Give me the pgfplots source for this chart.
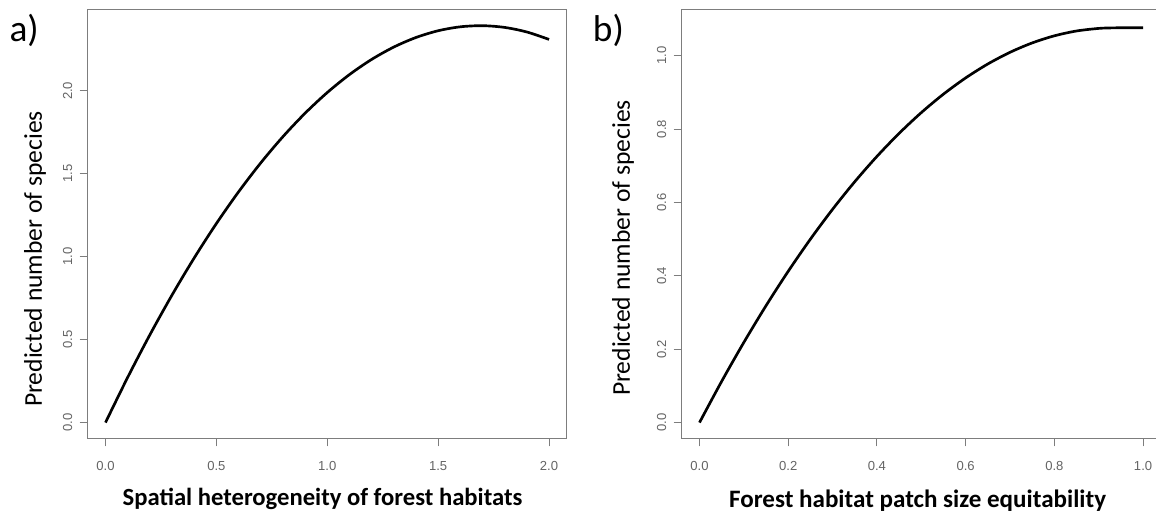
\documentclass[border=0pt]{standalone}
\usepackage{fontspec}
\setmainfont{Carlito}
\newfontfamily\arialf{Liberation Sans}
\usepackage{pgfplots}
\pgfplotsset{compat=1.18}
\definecolor{axgray}{RGB}{125,125,125}
\definecolor{lblgray}{RGB}{100,100,100}
\pgfplotsset{
  rplot/.style={
    scale only axis,
    width=359.3pt, height=321.4pt,
    axis line style={axgray, line width=0.8pt},
    every tick/.style={axgray, line width=0.8pt},
    tick align=outside,
    major tick length=6pt,
    xtick pos=left, ytick pos=left,
    /pgf/number format/fixed,
    /pgf/number format/fixed zerofill,
    /pgf/number format/precision=1,
    /pgf/number format/assume math mode=true,
    ticklabel style={font=\arialf\fontsize{9.8}{11}\selectfont, text=lblgray},
    yticklabel style={rotate=90, anchor=south},
    xticklabel style={anchor=north},
    xticklabel shift=8pt,
    yticklabel shift=2pt,
  }
}
\begin{document}
\begin{tikzpicture}
\useasboundingbox (0pt,0pt) rectangle (867pt,392.25pt);
\clip (0pt,0pt) rectangle (867pt,392.25pt);
\begin{axis}[rplot, at={(65.8pt,63.4pt)}, anchor=south west,
  xmin=-0.08, xmax=2.08, ymin=-0.0957, ymax=2.488,
  xtick={0,0.5,1,1.5,2}, ytick={0,0.5,1,1.5,2}]
\addplot[black, line width=2pt, smooth] coordinates {
(0,0) (0.1,0.2724) (0.2,0.5287) (0.3,0.7688) (0.4,0.9926) (0.5,1.2000)
(0.6,1.3910) (0.7,1.5656) (0.8,1.7237) (0.9,1.8652) (1.0,1.9900)
(1.1,2.0981) (1.2,2.1895) (1.3,2.2641) (1.4,2.3218) (1.5,2.3625)
(1.6,2.3862) (1.7,2.3929) (1.8,2.3825) (1.9,2.3549) (2.0,2.3100)};
\end{axis}
\begin{axis}[rplot, at={(511.3pt,63.4pt)}, anchor=south west,
  xmin=-0.04, xmax=1.04, ymin=-0.0433, ymax=1.125,
  xtick={0,0.2,0.4,0.6,0.8,1}, ytick={0,0.2,0.4,0.6,0.8,1}]
\addplot[black, line width=2pt, smooth] coordinates {
(0,0) (0.05,0.1124) (0.1,0.2186) (0.15,0.3186) (0.2,0.4124) (0.25,0.5000)
(0.3,0.5814) (0.35,0.6566) (0.4,0.7256) (0.45,0.7884) (0.5,0.8450)
(0.55,0.8954) (0.6,0.9396) (0.65,0.9776) (0.7,1.0094) (0.75,1.0350)
(0.8,1.0544) (0.85,1.0676) (0.9,1.0746) (0.93,1.0760) (0.95,1.0762) (1.0,1.0762)};
\end{axis}
% titles
\node[font=\fontsize{18.5}{20}\selectfont\bfseries, anchor=base] at (241.9pt,12.75pt) {Spatial heterogeneity of forest habitats};
\node[font=\fontsize{18.8}{20}\selectfont\bfseries, anchor=base] at (688.2pt,11.25pt) {Forest habitat patch size equitability};
\node[font=\fontsize{19.2}{21}\selectfont, rotate=90, anchor=center] at (26.25pt,198pt) {Predicted number of species};
\node[font=\fontsize{19.2}{21}\selectfont, rotate=90, anchor=center] at (467.25pt,206.25pt) {Predicted number of species};
\node[font=\fontsize{28}{32}\selectfont, anchor=base west, inner sep=0pt] at (7pt,360.75pt) {a)};
\node[font=\fontsize{28}{32}\selectfont, anchor=base west, inner sep=0pt] at (444.5pt,360.75pt) {b)};
\end{tikzpicture}
\end{document}
